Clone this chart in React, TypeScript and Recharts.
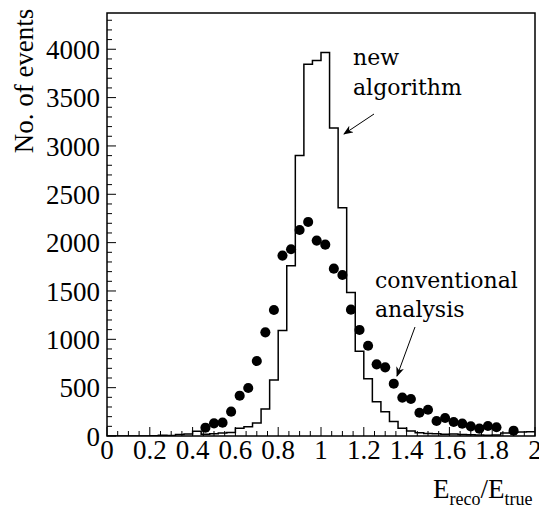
import React from "react";
import { ComposedChart, Line, Scatter, XAxis, YAxis, ZAxis, ReferenceArea } from "recharts";

// histogram "new algorithm": counts per bin of width 0.04, starting at 0
const BIN_WIDTH = 0.04;
const NEW_ALGO = [
  0, 0, 0, 0, 0, 3, 8, 5, 15, 20, 48, 18, 22, 32, 36, 79, 96, 135, 279, 579,
  1090, 1760, 2900, 3845, 3883, 3966, 3185, 2360, 1483, 876, 593, 355, 252, 150, 79, 52, 34, 25, 22, 18,
  20, 15, 12, 10, 8, 10, 30, 40, 42, 45,
];

// "conventional analysis" points (bin centres)
const CONV_X = [
  0.46, 0.5, 0.54, 0.58, 0.62, 0.66, 0.7, 0.74, 0.78, 0.82, 0.86, 0.9, 0.94, 0.98, 1.02, 1.06, 1.1, 1.14,
  1.18, 1.22, 1.26, 1.3, 1.34, 1.38, 1.42, 1.46, 1.5, 1.54, 1.58, 1.62, 1.66, 1.7, 1.74, 1.78, 1.82, 1.9,
];
const CONV_Y = [
  86, 131, 138, 252, 417, 497, 776, 1072, 1303, 1866, 1931, 2131, 2214, 2021, 1979, 1731, 1665, 1307,
  1097, 934, 741, 710, 541, 397, 383, 241, 272, 155, 186, 145, 128, 100, 76, 103, 90, 55,
];

const X_MAJOR = [0, 0.2, 0.4, 0.6, 0.8, 1, 1.2, 1.4, 1.6, 1.8, 2];
const X_TICK_LABELS = ["0", "0.2", "0.4", "0.6", "0.8", "1", "1.2", "1.4", "1.6", "1.8", "2"];
const Y_MAJOR = [0, 500, 1000, 1500, 2000, 2500, 3000, 3500, 4000];
const Y_MAX = 4375;

// minor ticks every 0.05 on x and every 100 on y
const X_TICKS = Array.from({ length: 41 }, (_, i) => Math.round(i * 5) / 100);
const Y_TICKS = Array.from({ length: 44 }, (_, i) => i * 100);

const histData = NEW_ALGO.map((v, i) => ({ x: i * BIN_WIDTH, y: v })).concat([
  { x: 2, y: NEW_ALGO[NEW_ALGO.length - 1] },
]);
const convData = CONV_X.map((x, i) => ({ x, y: CONV_Y[i], z: 1 }));

const FONT = "Liberation Serif, Times New Roman, serif";
const ANNOT = "DejaVu Serif, serif";

const isMajorX = (v: number) => X_MAJOR.some((m) => Math.abs(m - v) < 1e-6);

function XTick(props: any) {
  const { x, y, payload } = props;
  const v = payload.value as number;
  const idx = X_MAJOR.findIndex((m) => Math.abs(m - v) < 1e-6);
  const len = isMajorX(v) ? 9 : 5;
  return (
    <g>
      <line x1={x} y1={y} x2={x} y2={y - len} stroke="#000" strokeWidth={1} />
      {idx >= 0 && (
        <text x={x} y={y + 4} dy="0.71em" textAnchor="middle" fontSize={27} fill="#000" style={{ fontFamily: FONT }}>
          {X_TICK_LABELS[idx]}
        </text>
      )}
    </g>
  );
}

function YTick(props: any) {
  const { x, y, payload } = props;
  const v = payload.value as number;
  const major = Y_MAJOR.includes(v);
  const len = major ? 9 : 5;
  return (
    <g>
      <line x1={x} y1={y} x2={x + len} y2={y} stroke="#000" strokeWidth={1} />
      {major && (
        <text x={x - 7} y={y} dy="0.355em" textAnchor="end" fontSize={27} fill="#000" style={{ fontFamily: FONT }}>
          {String(v)}
        </text>
      )}
    </g>
  );
}

export default function App() {
  return (
    <div style={{ position: "relative", width: 539, height: 500, fontFamily: FONT }}>
      <ComposedChart
        width={539}
        height={500}
        margin={{ top: 5, right: 12, left: 9, bottom: 42 }}
        style={{ fontFamily: FONT }}
      >
        <XAxis
          type="number"
          dataKey="x"
          domain={[0, 2]}
          ticks={X_TICKS}
          interval={0}
          tick={<XTick />}
          tickLine={false}
          axisLine={false}
          tickSize={0}
          tickMargin={0}
          height={30}
          allowDataOverflow
        />
        <YAxis
          type="number"
          dataKey="y"
          domain={[0, Y_MAX]}
          ticks={Y_TICKS}
          interval={0}
          tick={<YTick />}
          tickLine={false}
          axisLine={false}
          tickSize={0}
          tickMargin={0}
          width={90}
          allowDataOverflow
        />
        <ZAxis dataKey="z" range={[80, 80]} />
        <ReferenceArea
          x1={0}
          x2={2}
          y1={0}
          y2={Y_MAX}
          fill="none"
          fillOpacity={0}
          stroke="#000"
          strokeWidth={1.5}
        />
        <Line
          data={histData}
          dataKey="y"
          type="stepAfter"
          stroke="#000"
          strokeWidth={1.5}
          dot={false}
          isAnimationActive={false}
        />
        <Scatter data={convData} dataKey="y" fill="#000" isAnimationActive={false} />
      </ComposedChart>
      <svg
        width={539}
        height={500}
        style={{ position: "absolute", left: 0, top: 0, pointerEvents: "none" }}
      >
        <defs>
          <marker id="arr" markerWidth="10" markerHeight="8" refX="9" refY="4" orient="auto" markerUnits="userSpaceOnUse">
            <path d="M0,0 L10,4 L0,8 L3,4 z" fill="#000" />
          </marker>
        </defs>
        <text
          x={25}
          y={73}
          transform="rotate(-90 25 73)"
          textAnchor="middle"
          fontSize={27}
          style={{ fontFamily: FONT }}
          fill="#000"
        >
          No. of events
        </text>
        <g style={{ fontFamily: ANNOT }} fontSize={22} fill="#000">
          <text x={345} y={57}>new</text>
          <text x={345} y={87}>algorithm</text>
          <text x={367} y={280}>conventional</text>
          <text x={367} y={309}>analysis</text>
        </g>
        <line x1={366} y1={106} x2={336} y2={126} stroke="#000" strokeWidth={1} markerEnd="url(#arr)" />
        <line x1={407} y1={319} x2={389} y2={368} stroke="#000" strokeWidth={1} markerEnd="url(#arr)" />
        <text x={425} y={490} style={{ fontFamily: FONT }} fill="#000" fontSize={27}>
          E
          <tspan fontSize={18} dy={7}>reco</tspan>
          <tspan fontSize={27} dy={-7}>/E</tspan>
          <tspan fontSize={18} dy={7}>true</tspan>
        </text>
      </svg>
    </div>
  );
}
